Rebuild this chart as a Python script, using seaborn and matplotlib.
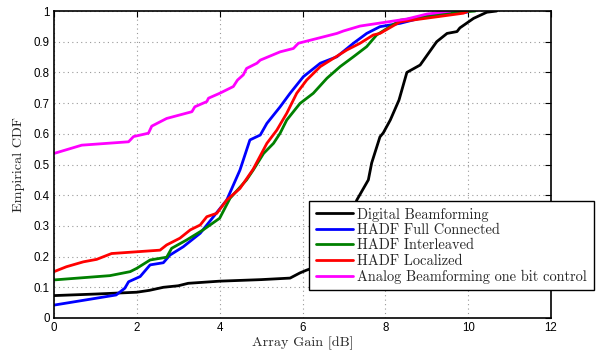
import pandas as pd
import seaborn as sns
from matplotlib import pyplot as plt

# CDF points (x = array gain in dB, y = empirical CDF)
digital_x = [0, 1.0, 2.0, 2.3, 2.64, 3.0, 3.24, 4.0, 5.0, 5.7, 5.94, 6.1, 6.4, 6.8, 7.1, 7.31,
             7.59, 7.67, 7.87, 7.95, 8.12, 8.33, 8.52, 8.84, 9.24, 9.49, 9.73, 9.8, 10.13, 10.45, 10.69]
digital_y = [0.073, 0.078, 0.084, 0.09, 0.10, 0.105, 0.113, 0.12, 0.125, 0.13, 0.147, 0.156, 0.17,
             0.22, 0.30, 0.384, 0.45, 0.505, 0.59, 0.603, 0.645, 0.71, 0.80, 0.824, 0.90, 0.927,
             0.933, 0.945, 0.976, 0.996, 1.0]

full_x = [0, 1.0, 1.5, 1.71, 1.8, 2.08, 2.32, 2.64, 2.8, 3.12, 3.53, 3.85, 4.17, 4.49, 4.73, 4.98,
          5.14, 5.46, 5.7, 6.02, 6.43, 6.83, 7.23, 7.55, 7.87, 8.36, 9.32, 9.97, 10.0]
full_y = [0.042, 0.064, 0.075, 0.097, 0.118, 0.135, 0.173, 0.18, 0.205, 0.232, 0.276, 0.33, 0.384,
          0.482, 0.58, 0.596, 0.634, 0.688, 0.732, 0.786, 0.83, 0.851, 0.895, 0.927, 0.949, 0.96,
          0.993, 0.996, 1.0]

inter_x = [0, 1.35, 1.84, 2.0, 2.32, 2.72, 2.84, 3.2, 3.6, 4.0, 4.25, 4.65, 4.81, 5.06, 5.3, 5.46,
           5.62, 5.94, 6.26, 6.59, 6.91, 7.23, 7.55, 7.79, 8.36, 9.8, 10.17]
inter_y = [0.124, 0.138, 0.151, 0.162, 0.189, 0.198, 0.227, 0.254, 0.287, 0.325, 0.39, 0.45, 0.482,
           0.536, 0.569, 0.602, 0.645, 0.699, 0.732, 0.781, 0.819, 0.851, 0.884, 0.922, 0.97,
           0.996, 1.0]

local_x = [0, 0.3, 0.71, 1.03, 1.39, 2.56, 2.72, 3.04, 3.29, 3.53, 3.69, 3.93, 4.17, 4.49, 4.81,
           5.14, 5.38, 5.62, 5.86, 6.1, 6.43, 6.75, 7.07, 7.39, 7.71, 7.87, 8.36, 9.89, 10.0]
local_y = [0.151, 0.167, 0.183, 0.191, 0.21, 0.221, 0.238, 0.26, 0.287, 0.303, 0.33, 0.341, 0.384,
           0.422, 0.485, 0.569, 0.612, 0.667, 0.732, 0.775, 0.819, 0.846, 0.873, 0.895, 0.922,
           0.927, 0.965, 0.993, 1.0]

analog_x = [0, 0.67, 1.8, 1.92, 2.28, 2.36, 2.72, 3.33, 3.4, 3.69, 3.73, 4.0, 4.33, 4.43, 4.57,
            4.65, 4.9, 4.98, 5.46, 5.78, 5.9, 6.83, 6.99, 7.39, 8.52, 9.0, 9.57]
analog_y = [0.536, 0.563, 0.574, 0.591, 0.602, 0.625, 0.65, 0.672, 0.688, 0.705, 0.716, 0.732,
            0.754, 0.775, 0.792, 0.813, 0.83, 0.84, 0.867, 0.878, 0.895, 0.927, 0.935, 0.951,
            0.974, 0.99, 1.0]

names = ['Digital Beamforming', 'HADF Full Connected', 'HADF Interleaved',
         'HADF Localized', 'Analog Beamforming one bit control']
colors = ['black', '#0000ff', '#008000', '#ff0000', '#ff00ff']
series = [(digital_x, digital_y), (full_x, full_y), (inter_x, inter_y),
          (local_x, local_y), (analog_x, analog_y)]

frames = []
for name, (xs, ys) in zip(names, series):
    frames.append(pd.DataFrame({'gain': xs, 'cdf': ys, 'scheme': name}))
df = pd.concat(frames, ignore_index=True)

sns.set_style('white')
fig = plt.figure(figsize=(6.11, 3.54), dpi=100)
ax = fig.add_axes([0.0884, 0.1017, 0.8134, 0.8672])

sns.lineplot(data=df, x='gain', y='cdf', hue='scheme', hue_order=names,
             palette=dict(zip(names, colors)), estimator=None, sort=False,
             linewidth=2, ax=ax)

ax.set_xlim(0, 12)
ax.set_ylim(0, 1)
ax.set_xticks(range(0, 13, 2))
ax.set_yticks([i / 10 for i in range(11)])
ax.set_yticklabels(['0'] + ['%.1f' % (i / 10) for i in range(1, 10)] + ['1'])
ax.grid(True, linestyle=(0, (1, 3)), color='#999999', linewidth=0.8)
ax.tick_params(direction='in', top=True, right=True, length=4, width=0.8,
               labelsize=8.3, colors='black', pad=3)
for lab in ax.get_xticklabels() + ax.get_yticklabels():
    lab.set_fontfamily('Liberation Sans')
for sp in ax.spines.values():
    sp.set_color('black')
    sp.set_linewidth(1.2)

serif = 'cmr10'
ax.set_xlabel('Array Gain [dB]', fontfamily=serif, fontsize=10.2, labelpad=2)
ax.set_ylabel('Empirical CDF', fontfamily=serif, fontsize=10.2, labelpad=6)

leg = ax.legend(loc='upper left', bbox_to_anchor=(309 / 611, 1 - 201 / 354),
                bbox_transform=fig.transFigure, prop={'family': serif, 'size': 10.4},
                frameon=True, fancybox=False, handlelength=2.6, handletextpad=0.3,
                labelspacing=0.12, borderpad=0.45, borderaxespad=0)
leg.get_frame().set_edgecolor('black')
leg.get_frame().set_linewidth(1.0)
leg.get_frame().set_alpha(1)

fig.savefig('out.png', dpi=100)
